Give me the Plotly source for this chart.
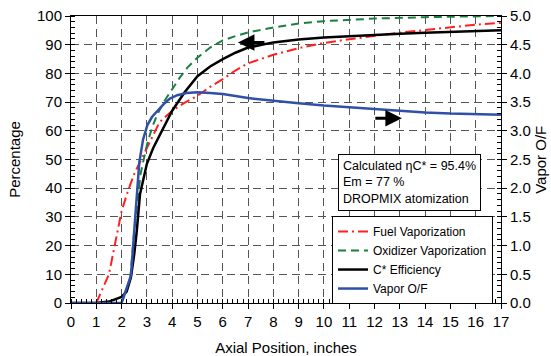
import plotly.graph_objects as go

# ---- data ----
fuel_x = [1, 1.5, 2, 2.25, 2.5, 2.75, 3, 3.25, 3.5, 4, 4.5, 5, 5.5, 6, 6.5, 7, 8, 9, 10, 11, 12, 13, 14, 15, 16, 17]
fuel_y = [0, 10, 32, 39, 45, 49.5, 54, 59, 63, 67, 69.8, 72.2, 75.3, 78, 81, 83.5, 86.5, 88.8, 90.6, 91.9, 93.1, 94.2, 95.1, 96, 97, 97.6]

ox_x = [2, 2.34, 2.5, 2.75, 3, 3.2, 3.4, 3.7, 4, 4.3, 4.6, 5, 5.5, 6, 6.5, 7, 8, 9, 10, 11, 12, 14, 17]
ox_y = [0, 8, 25, 45, 55, 61, 65.5, 70.5, 74.5, 78.5, 82, 85.5, 89, 91.5, 93, 94.3, 96, 97.4, 98.2, 98.7, 99.1, 99.6, 100]

cstar_x = [0, 1, 1.5, 2, 2.2, 2.37, 2.5, 2.6, 2.73, 3, 3.25, 3.5, 3.75, 4, 4.5, 5, 5.5, 6, 6.5, 7, 8, 9, 10, 11, 12, 13, 14, 15, 16, 17]
cstar_y = [0, 0, 0.5, 2.1, 4, 9, 17, 25, 38, 48.5, 54, 58.5, 63, 67, 73.5, 79, 82.4, 85, 87.2, 89, 90.8, 91.8, 92.5, 93, 93.4, 93.8, 94.2, 94.5, 94.7, 95]

of_x = [0, 2, 2.37, 2.53, 2.7, 2.85, 3.02, 3.2, 3.45, 3.7, 3.91, 4.2, 4.57, 5, 5.5, 6, 7, 8, 9, 10, 11, 12, 13, 14, 15, 16, 17]
of_y = [0, 0, 0.48, 1.38, 2.45, 2.85, 3.1, 3.24, 3.36, 3.48, 3.56, 3.62, 3.66, 3.67, 3.66, 3.64, 3.57, 3.52, 3.48, 3.44, 3.41, 3.37, 3.35, 3.32, 3.30, 3.29, 3.28]

x_ticks = list(range(0, 18))
y_ticks = list(range(0, 101, 10))
y2_ticks = [0.0, 0.5, 1.0, 1.5, 2.0, 2.5, 3.0, 3.5, 4.0, 4.5, 5.0]

FONT = "Arial, 'Liberation Sans', sans-serif"
TITLE_FONT = dict(family=FONT, size=15, color="black")

fig = go.Figure()
fig.add_trace(go.Scatter(x=fuel_x, y=fuel_y, mode="lines", name="Fuel Vaporization",
                         line=dict(color="#ff2020", width=2, dash="10px,4px,2px,4px")))
fig.add_trace(go.Scatter(x=ox_x, y=ox_y, mode="lines", name="Oxidizer Vaporization",
                         line=dict(color="#1a8040", width=2, dash="8px,5px")))
fig.add_trace(go.Scatter(x=cstar_x, y=cstar_y, mode="lines", name="C* Efficiency",
                         line=dict(color="black", width=2.5)))
fig.add_trace(go.Scatter(x=of_x, y=of_y, mode="lines", name="Vapor O/F", yaxis="y2",
                         line=dict(color="#3050a8", width=2.5)))

fig.update_layout(
    width=551, height=356,
    margin=dict(l=71, r=50, t=16, b=53),
    paper_bgcolor="white", plot_bgcolor="white",
    font=dict(family=FONT, size=15, color="black"),
    showlegend=True,
    legend=dict(x=0.607, y=0.303, xanchor="left", yanchor="top",
                bgcolor="white", bordercolor="black", borderwidth=1,
                font=dict(size=12), itemwidth=30, tracegroupgap=0),
    xaxis=dict(range=[0, 17], tickvals=x_ticks, ticks="outside", ticklen=5,
               tickcolor="black", showline=True, linecolor="black", linewidth=1,
               mirror=True, showgrid=True, gridcolor="#555555", griddash="8px,5px",
               gridwidth=1, zeroline=False, automargin=False,
               minor=dict(dtick=0.2, ticks="inside", ticklen=4, tickcolor="black", showgrid=False),
               title=dict(text="Axial Position, inches", standoff=14, font=TITLE_FONT)),
    yaxis=dict(range=[0, 100], tickvals=y_ticks, ticks="outside", ticklen=5,
               tickcolor="black", showline=True, linecolor="black", linewidth=1,
               showgrid=True, gridcolor="#555555", griddash="8px,5px", gridwidth=1,
               zeroline=False, automargin=False,
               minor=dict(dtick=2, ticks="inside", ticklen=4, tickcolor="black", showgrid=False),
               title=dict(text="Percentage", standoff=12, font=TITLE_FONT)),
    yaxis2=dict(range=[0, 5], tickvals=y2_ticks, tickformat=".1f", overlaying="y", side="right",
                ticks="outside", ticklen=5, tickcolor="black", showline=True,
                linecolor="black", linewidth=1, showgrid=False, zeroline=False,
                automargin=False,
                minor=dict(dtick=0.1, ticks="inside", ticklen=4, tickcolor="black", showgrid=False)),
)

# right-axis title, pushed to the page's right edge as in the reference
fig.add_annotation(xref="paper", yref="paper", x=1.1135, y=0.5, xanchor="right", yanchor="middle",
                   text="Vapor O/F", textangle=-90, showarrow=False, font=TITLE_FONT,
                   borderpad=0)

fig.add_annotation(xref="paper", yref="paper", x=0.621, y=0.519, xanchor="left", yanchor="top",
                   text="Calculated ηC* = 95.4%<br>Em = 77 %<br>DROPMIX atomization",
                   align="left", showarrow=False, font=dict(size=12.5),
                   bgcolor="white", bordercolor="black", borderwidth=1, borderpad=4)

# direction arrows
fig.add_annotation(x=6.6, y=90.8, xref="x", yref="y", ax=28, ay=0, text="",
                   showarrow=True, arrowhead=2, arrowsize=1.1, arrowwidth=3, arrowcolor="black")
fig.add_annotation(x=13.08, y=64.4, xref="x", yref="y", ax=-28, ay=0, text="",
                   showarrow=True, arrowhead=2, arrowsize=1.1, arrowwidth=3, arrowcolor="black")

fig.write_html("out.html")
